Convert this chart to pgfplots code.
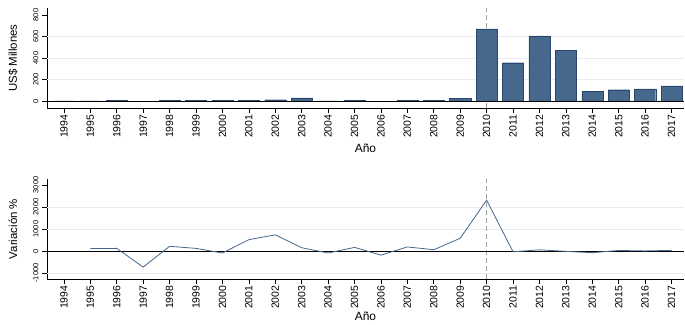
\documentclass[border=0pt]{standalone}
\usepackage{pgfplots}
\pgfplotsset{compat=1.18}
\usepackage{fontspec}
\setmainfont{Liberation Sans}
\definecolor{barblue}{RGB}{70,104,140}
\definecolor{baredge}{RGB}{40,70,110}
\definecolor{gridc}{RGB}{228,238,240}
\definecolor{dashc}{RGB}{160,160,160}
\begin{document}
\begin{tikzpicture}
\useasboundingbox (0,0) rectangle (685bp,325bp);
\pgfplotsset{
  common/.style={
    scale only axis, width=637bp, height=100bp,
    xmin=1993.36, xmax=2017.47,
    xtick={1994,...,2017},
    axis x line*=bottom, axis y line*=left,
    axis line style={line width=0.9bp, black},
    tick style={line width=0.6bp, black},
    tick align=outside, major tick length=5bp,
    /pgf/number format/assume math mode=true,
    /pgf/number format/1000 sep={},
    xticklabel style={font=\fontsize{10.5}{10.5}\selectfont, rotate=90, anchor=east, inner sep=1.5bp},
    yticklabel style={font=\fontsize{7.5}{7.5}\selectfont, rotate=90, anchor=south},
    extra y tick style={grid=major, major tick length=0pt, major grid style={gridc, line width=0.8bp}},
    extra y tick labels={},
    clip=true,
    every axis y label/.style={at={(axis description cs:-0.0534,0.5)}, rotate=90, anchor=center, font=\fontsize{11.5}{11.5}\selectfont},
  }
}
\pgfplotstableread{
year val
1994 1
1995 2
1996 4
1997 -3
1998 3
1999 6
2000 5
2001 4
2002 12
2003 28
2004 2
2005 5
2006 -6
2007 4
2008 6
2009 27
2010 670
2011 356
2012 605
2013 468
2014 87
2015 105
2016 112
2017 140
}\levels
\pgfplotstableread{
year val
1995 110
1996 120
1997 -730
1998 215
1999 120
2000 -90
2001 515
2002 735
2003 150
2004 -90
2005 165
2006 -185
2007 185
2008 60
2009 580
2010 2310
2011 -35
2012 55
2013 -15
2014 -75
2015 25
2016 5
2017 30
}\growth
\begin{axis}[common,
  at={(47bp,217bp)}, anchor=south west,
  ymin=-65, ymax=865,
  ytick={0,200,400,600,800},
  extra y ticks={200,400,600},
  ylabel={US\$ Millones},
  xlabel={Año},
  every axis x label/.style={at={(axis description cs:0.5,-0.36)}, anchor=north, inner sep=0pt, font=\fontsize{12}{12}\selectfont},
]
\addplot[dashc, line width=1.4bp, dash pattern=on 5bp off 3bp] coordinates {(2010,-65) (2010,865)};
\addplot[ybar, bar width=0.8, fill=barblue, draw=baredge, line width=0.4bp] table[x=year,y=val] {\levels};
\addplot[black, line width=0.6bp] coordinates {(1993.36,0) (2017.47,0)};
\end{axis}
\begin{axis}[common,
  at={(47bp,46bp)}, anchor=south west,
  ymin=-1270, ymax=3270,
  ytick={-1000,0,1000,2000,3000},
  extra y ticks={-1000,1000,2000},
  ylabel={Variación \%},
  xlabel={Año},
  every axis x label/.style={at={(axis description cs:0.5,-0.325)}, anchor=north, inner sep=0pt, font=\fontsize{12}{12}\selectfont},
]
\addplot[dashc, line width=1.4bp, dash pattern=on 5bp off 3bp] coordinates {(2010,-1270) (2010,3270)};
\addplot[black, line width=0.7bp] coordinates {(1993.36,0) (2017.47,0)};
\addplot[barblue, line width=0.8bp, mark=none] table[x=year,y=val] {\growth};
\end{axis}
\end{tikzpicture}
\end{document}
